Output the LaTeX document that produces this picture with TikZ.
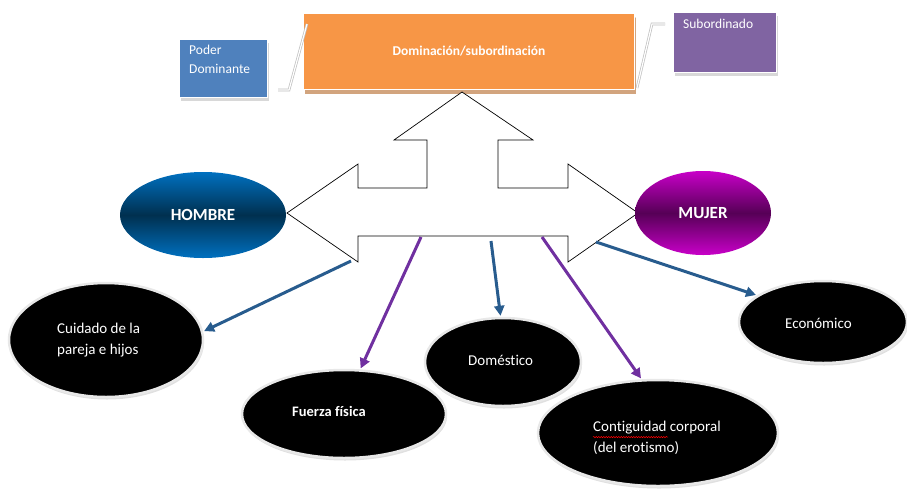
\documentclass[tikz,border=0pt]{standalone}
\usepackage{fontspec}
\setmainfont[Ligatures={NoCommon}]{Carlito}
\usetikzlibrary{shapes.geometric,arrows.meta,calc,shadows,decorations.pathmorphing}

\definecolor{orangeF}{HTML}{F79646}
\definecolor{tanS}{HTML}{D2A47E}
\definecolor{blueF}{HTML}{4F81BD}
\definecolor{purpleF}{HTML}{8064A2}
\definecolor{hblue}{HTML}{0070C0}
\definecolor{hdark}{HTML}{00304F}
\definecolor{mmag}{HTML}{C800C8}
\definecolor{mdark}{HTML}{560056}
\definecolor{cBlue}{HTML}{285C8E}
\definecolor{cPurple}{HTML}{7030A0}

\begin{document}
\begin{tikzpicture}[x=1pt,y=-1pt,
  box/.style={rectangle, draw=white, line width=1pt, inner sep=0pt, anchor=north west,
    drop shadow={shadow xshift=1.5pt, shadow yshift=-3pt, fill=gray!60, opacity=0.5}},
  boxtext/.style={text=white, align=left, anchor=north west, inner sep=0pt,
    font=\fontsize{13.5}{19}\selectfont},
  callout/.style={draw=gray!50, line width=0.7pt, double=white, double distance=1.2pt},
  blk/.style={ellipse, fill=black, draw=gray!18, line width=2.5pt, inner sep=0pt,
    drop shadow={shadow xshift=1pt, shadow yshift=-2.5pt, fill=gray!70, opacity=0.35}},
  lbl/.style={text=white, align=left, anchor=west, inner sep=0pt,
    font=\fontsize{15}{21}\selectfont},
  sex/.style={ellipse, inner sep=0pt, text=white, font=\bfseries\fontsize{17}{20}\selectfont},
  conn/.style={line width=3pt, -{Triangle[length=10pt,width=10pt]}, shorten >=1pt}]
\useasboundingbox (0,0) rectangle (907,491);

% top boxes
\node[box, fill=orangeF, minimum width=331, minimum height=76,
  drop shadow={shadow xshift=1pt, shadow yshift=-4pt, fill=tanS, opacity=1}] (dom) at (303,13) {};
\node[text=white, font=\bfseries\fontsize{13.5}{16}\selectfont] (tdom) at (dom.center) {Dominación/subordinación};

\node[box, fill=blueF, minimum width=88, minimum height=58] (poder) at (179,39) {};
\node[boxtext] (tpoder) at ($(poder.north west)+(10,6)$) {Poder\\Dominante};

\node[box, fill=purpleF, minimum width=103, minimum height=60] (sub) at (673,12) {};
\node[boxtext] (tsub) at ($(sub.north west)+(10,7)$) {Subordinado};

% callout lines to the central box
\draw[callout] ($(poder.south east)+(10,-8)$) -- ++(11,0) -- ($(dom.north west)+(4,11)$);
\draw[callout] ($(sub.north west)+(-8,12)$) -- ++(-13,0) -- ($(dom.north east)+(2,75)$);

% three-way arrow
\draw[black, line width=0.7pt, fill=white, line join=miter]
  (462,92) -- (533,140) -- (498,140) -- (498,188) -- (568,188) -- (568,164)
  -- (638,213) -- (568,262) -- (568,236) -- (358,236) -- (358,262)
  -- (287,213) -- (358,164) -- (358,188) -- (427,188) -- (427,140)
  -- (394,140) -- cycle;

% HOMBRE / MUJER
\node[sex, minimum width=166, minimum height=86,
  top color=hblue, bottom color=hblue, middle color=hdark] (hom) at (203,215) {HOMBRE};
\node[sex, minimum width=136, minimum height=84,
  top color=mmag, bottom color=mmag, middle color=mdark] (muj) at (703,213) {MUJER};

% black ellipses
\node[blk, minimum width=194, minimum height=114] (cuid) at (106,340) {};
\node[lbl] (tcuid) at (57,340) {Cuidado de la\\pareja e hijos};

\node[blk, minimum width=204, minimum height=88] (fuer) at (344,414) {};
\node[lbl, font=\bfseries\fontsize{14.5}{18}\selectfont] (tfuer) at (292,411) {Fuerza física};

\node[blk, minimum width=156, minimum height=88] (dome) at (503,362) {};
\node[lbl] (tdome) at (468,360) {Doméstico};

\node[blk, minimum width=240, minimum height=106] (cont) at (658,433) {};
\node[lbl] (tcont) at (593,438) {Contiguidad corporal\\(del erotismo)};
\draw[red, line width=0.5pt, decorate, decoration={snake, amplitude=0.7pt, segment length=2.5pt}]
  ($(tcont.north west)+(0,16)$) -- ++(75,0);

\node[blk, minimum width=168, minimum height=82] (econ) at (823,322) {};
\node[lbl] (tecon) at (785,323) {Económico};

% connector start points on the arrow
\coordinate (o1) at (351,261);
\coordinate (o2) at (421,237);
\coordinate (o3) at (491,241);
\coordinate (o4) at (542,237);
\coordinate (o5) at (596,242);

\draw[conn, cBlue] (o1) -- (cuid.5);
\draw[conn, cPurple] (o2) -- (fuer.70);
\draw[conn, cBlue] (o3) -- (dome.93);
\draw[conn, cPurple] (o4) -- (cont.107);
\draw[conn, cBlue] (o5) -- (econ.158);
\end{tikzpicture}
\end{document}
